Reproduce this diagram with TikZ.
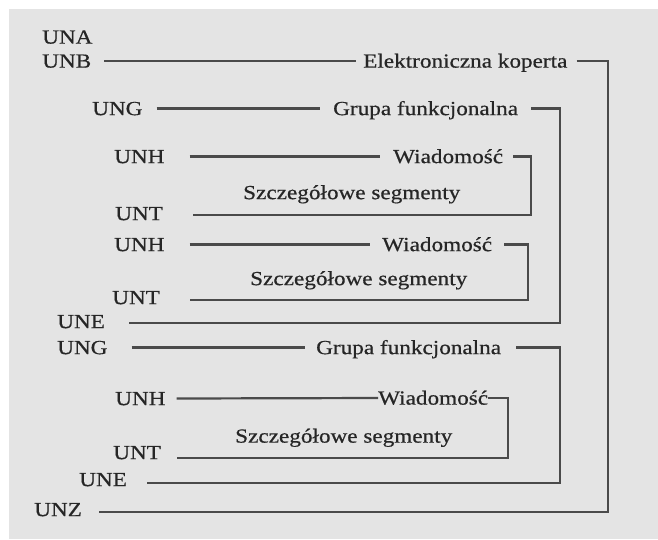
\documentclass[tikz,border=0pt]{standalone}
\usepackage{fontspec}
\setmainfont{Liberation Serif}[FakeStretch=1.16,FakeBold=0.6]
\definecolor{panel}{HTML}{E4E4E4}
\definecolor{ink}{HTML}{262626}
\definecolor{wire}{HTML}{4A4A4A}
\begin{document}
\begin{tikzpicture}[x=1pt,y=-1pt,
  lbl/.style={anchor=west,inner sep=0pt,text height=13.2pt,text depth=0pt,
              text=ink,font=\fontsize{20}{24}\selectfont},
  wireline/.style={draw=wire,line width=2.2pt,line join=miter}]
% canvas and grey panel
\useasboundingbox (0,0) rectangle (658,539);
\fill[white] (0,0) rectangle (658,539);
\fill[panel] (9,9) rectangle (658,539);

% segment labels
\node[lbl] (una)  at (42,37)    {UNA};
\node[lbl] (unb)  at (42,61)    {UNB};
\node[lbl] (ek)   at (363,61)   {Elektroniczna koperta};
\node[lbl] (ung1) at (92,108.5) {UNG};
\node[lbl] (gf1)  at (333,108.5){Grupa funkcjonalna};
\node[lbl] (unh1) at (114,156.5){UNH};
\node[lbl] (w1)   at (393,156.5){Wiadomość};
\node[lbl] (sz1)  at (243,192.5){Szczegółowe segmenty};
\node[lbl] (unt1) at (115,213.5){UNT};
\node[lbl] (unh2) at (114,244.5){UNH};
\node[lbl] (w2)   at (382,244.5){Wiadomość};
\node[lbl] (sz2)  at (250,278.5){Szczegółowe segmenty};
\node[lbl] (unt2) at (112,297.5){UNT};
\node[lbl] (une1) at (57,321.5) {UNE};
\node[lbl] (ung2) at (57,347.5) {UNG};
\node[lbl] (gf2)  at (316,347.5){Grupa funkcjonalna};
\node[lbl] (unh3) at (115,398.5){UNH};
\node[lbl] (w3)   at (378,398)  {Wiadomość};
\node[lbl] (sz3)  at (235,436)  {Szczegółowe segmenty};
\node[lbl] (unt3) at (113,452.5){UNT};
\node[lbl] (une2) at (79,479.5) {UNE};
\node[lbl] (unz)  at (34,509.5) {UNZ};

% bracket corners
\coordinate (ekA) at (608,61);   \coordinate (ekB) at (608,512);
\coordinate (g1A) at (560,108.5);\coordinate (g1B) at (560,323);
\coordinate (m1A) at (531,156.5);\coordinate (m1B) at (531,215);
\coordinate (m2A) at (528,244.5);\coordinate (m2B) at (528,300);
\coordinate (g2A) at (560,347.5);\coordinate (g2B) at (560,483);
\coordinate (m3A) at (508,398);  \coordinate (m3B) at (508,458);

% interchange envelope
\draw[wireline] ([xshift=13pt]unb.east) -- ([xshift=-7pt]ek.west);
\draw[wireline] ([xshift=9pt]ek.east) -- (ekA) -- (ekB) -- ([xshift=17pt]unz.east |- ekB);

% first functional group
\draw[wireline] ([xshift=14pt]ung1.east) -- ([xshift=-13pt]gf1.west);
\draw[wireline] ([xshift=13pt]gf1.east) -- (g1A) -- (g1B) -- ([xshift=24pt]une1.east |- g1B);

\draw[wireline] ([xshift=25pt]unh1.east) -- ([xshift=-13pt]w1.west);
\draw[wireline] ([xshift=10pt]w1.east) -- (m1A) -- (m1B) -- ([xshift=30pt]unt1.east |- m1B);

\draw[wireline] ([xshift=25pt]unh2.east) -- ([xshift=-12pt]w2.west);
\draw[wireline] ([xshift=12pt]w2.east) -- (m2A) -- (m2B) -- ([xshift=30pt]unt2.east |- m2B);

% second functional group
\draw[wireline] ([xshift=24pt]ung2.east) -- ([xshift=-11pt]gf2.west);
\draw[wireline] ([xshift=15pt]gf2.east) -- (g2A) -- (g2B) -- ([xshift=20pt]une2.east |- g2B);

\draw[wireline] ([xshift=11pt]unh3.east) -- (w3.west);
\draw[wireline] (w3.east) -- (m3A) -- (m3B) -- ([xshift=16pt]unt3.east |- m3B);
\end{tikzpicture}
\end{document}
